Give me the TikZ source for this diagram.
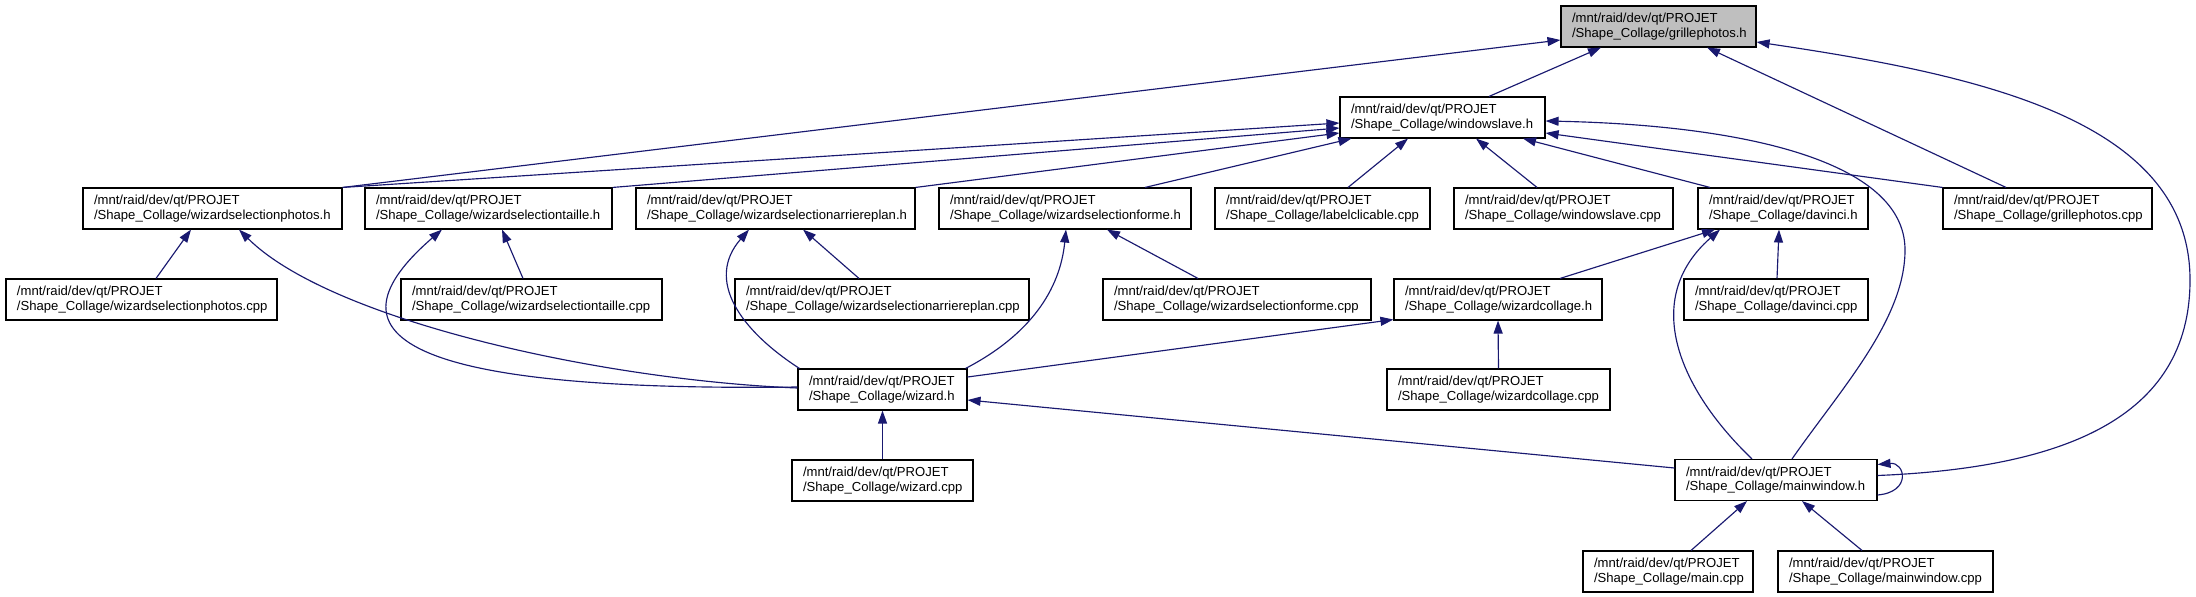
\documentclass[tikz,border=0pt]{standalone}
\usepackage{fontspec}
\setmainfont{Liberation Sans}
\usetikzlibrary{arrows.meta,calc}
\definecolor{mblue}{HTML}{191970}
\definecolor{gfill}{HTML}{BFBFBF}
\newcommand\dxl[1]{\mbox{/mnt/raid/dev/qt/PROJET}\\\mbox{/Shape\_Collage/#1}}
\tikzset{
  box/.style={draw=black, line width=1.1bp, fill=white, minimum height=41bp,
    inner xsep=11bp, inner ysep=0bp, text width=#1, align=left,
    font=\fontsize{13.1bp}{14.5bp}\selectfont},
  edge/.style={draw=mblue, line width=1.15bp, -{Triangle[length=13bp,width=9bp]}},
}
\begin{document}
\begin{tikzpicture}[x=1bp,y=-1bp]
\useasboundingbox (0,0) rectangle (2196,597);
\fill[white] (0,0) rectangle (2196,597);
% row 1
\node[box=173bp, fill=gfill] (gh) at (1658.5,26.5) {\dxl{grillephotos.h}};
% row 2
\node[box=183bp] (wsl) at (1442.5,117.5) {\dxl{windowslave.h}};
% row 3
\node[box=237bp] (wsp) at (212.5,208.5) {\dxl{wizardselectionphotos.h}};
\node[box=225bp] (wst) at (488.5,208.5) {\dxl{wizardselectiontaille.h}};
\node[box=257bp] (wsa) at (775.5,208.5) {\dxl{wizardselectionarriereplan.h}};
\node[box=230bp] (wsf) at (1065,208.5) {\dxl{wizardselectionforme.h}};
\node[box=193bp] (lbl) at (1322.5,208.5) {\dxl{labelclicable.cpp}};
\node[box=197bp] (wsc) at (1563.5,208.5) {\dxl{windowslave.cpp}};
\node[box=148bp] (dvh) at (1783,208.5) {\dxl{davinci.h}};
\node[box=187bp] (gpc) at (2047.5,208.5) {\dxl{grillephotos.cpp}};
% row 4
\node[box=249bp] (wspc) at (141.5,299.5) {\dxl{wizardselectionphotos.cpp}};
\node[box=239bp] (wstc) at (531.5,299.5) {\dxl{wizardselectiontaille.cpp}};
\node[box=272bp] (wsac) at (882,299.5) {\dxl{wizardselectionarriereplan.cpp}};
\node[box=246bp] (wsfc) at (1237,299.5) {\dxl{wizardselectionforme.cpp}};
\node[box=186bp] (wch) at (1498,299.5) {\dxl{wizardcollage.h}};
\node[box=162bp] (dvc) at (1776,299.5) {\dxl{davinci.cpp}};
% row 5
\node[box=147bp] (wzh) at (882.5,389.5) {\dxl{wizard.h}};
\node[box=201bp] (wcc) at (1498.5,389.5) {\dxl{wizardcollage.cpp}};
% row 6
\node[box=159bp] (wzc) at (882.5,480.5) {\dxl{wizard.cpp}};
\node[box=180bp] (mwh) at (1776,480) {\dxl{mainwindow.h}};
% row 7
\node[box=148bp] (mainc) at (1668,571.5) {\dxl{main.cpp}};
\node[box=193bp] (mwc) at (1885.5,571.5) {\dxl{mainwindow.cpp}};

% edges into grillephotos.h
\draw[edge] ($(wsl.north)+(46.5,0)$) -- ($(gh.south)+(-57.5,0)$);
\draw[edge] (wsp.north east) -- ($(gh.west)+(0,13.5)$);
\draw[edge] ($(gpc.north)+(-41.5,0)$) -- ($(gh.south)+(48.5,0)$);
\draw[edge] ($(mwh.east)+(0,-4.5)$) .. controls (2060,468) and (2190,420) .. (2190,280)
   .. controls (2190,120) and (1980,75) .. ($(gh.east)+(0,15.5)$);
% edges into windowslave.h
\draw[edge] (wsp.north east) -- ($(wsl.west)+(0,5.5)$);
\draw[edge] (wst.north east) -- ($(wsl.west)+(0,10.5)$);
\draw[edge] (wsa.north east) -- ($(wsl.west)+(0,15.5)$);
\draw[edge] ($(wsf.north)+(80,0)$) -- ($(wsl.south west)+(12,0)$);
\draw[edge] ($(lbl.north)+(25.5,0)$) -- ($(wsl.south)+(-34.5,0)$);
\draw[edge] ($(wsc.north)+(-26.5,0)$) -- ($(wsl.south)+(33.5,0)$);
\draw[edge] ($(dvh.north)+(-73,0)$) -- ($(wsl.south)+(80.5,0)$);
\draw[edge] (gpc.north west) -- ($(wsl.east)+(0,15.5)$);
\draw[edge] ($(mwh.north)+(16,0)$) .. controls (1840,390) and (1905,320) .. (1905,250)
   .. controls (1905,160) and (1740,125) .. ($(wsl.east)+(0,3.5)$);
% row 3 parents
\draw[edge] ($(wspc.north)+(14.5,0)$) -- ($(wsp.south)+(-21.5,0)$);
\draw[edge] ($(wzh.west)+(0,-1.5)$) .. controls (600,380) and (330,320) .. ($(wsp.south)+(26.5,0)$);
\draw[edge] ($(wzh.west)+(0,-2.5)$) .. controls (400,392) and (320,335) .. ($(wst.south)+(-46.5,0)$);
\draw[edge] ($(wstc.north)+(-8.5,0)$) -- ($(wst.south)+(13.5,0)$);
\draw[edge] ($(wsac.north)+(-23,0)$) -- ($(wsa.south)+(27.5,0)$);
\draw[edge] ($(wzh.north west)+(2,0)$) .. controls (740,330) and (705,280) .. ($(wsa.south)+(-26.5,0)$);
\draw[edge] ($(wzh.north east)+(-2,0)$) .. controls (1030,335) and (1060,290) .. ($(wsf.south)+(1,0)$);
\draw[edge] ($(wsfc.north)+(-39,0)$) -- ($(wsf.south)+(42,0)$);
\draw[edge] ($(wch.north)+(62,0)$) -- ($(dvh.south)+(-68,0)$);
\draw[edge] ($(mwh.north)+(-24,0)$) .. controls (1680,390) and (1640,300) .. ($(dvh.south)+(-63,0)$);
\draw[edge] ($(dvc.north)+(1,0)$) -- ($(dvh.south)+(-4,0)$);
% lower edges
\draw[edge] ($(wzh.east)+(0,-12.5)$) -- ($(wch.south west)+(0,-1)$);
\draw[edge] (wcc.north) -- (wch.south);
\draw[edge] ($(mwh.west)+(0,-12)$) -- ($(wzh.east)+(0,10.5)$);
\draw[edge] ($(mwh.east)+(0,15)$) .. controls (1912,492) and (1905,462) .. ($(mwh.east)+(0,-15.5)$);
\draw[edge] (wzc.north) -- (wzh.south);
\draw[edge] ($(mainc.north)+(23,0)$) -- ($(mwh.south)+(-29,0)$);
\draw[edge] ($(mwc.north)+(-23.5,0)$) -- ($(mwh.south)+(26,0)$);
\end{tikzpicture}
\end{document}
